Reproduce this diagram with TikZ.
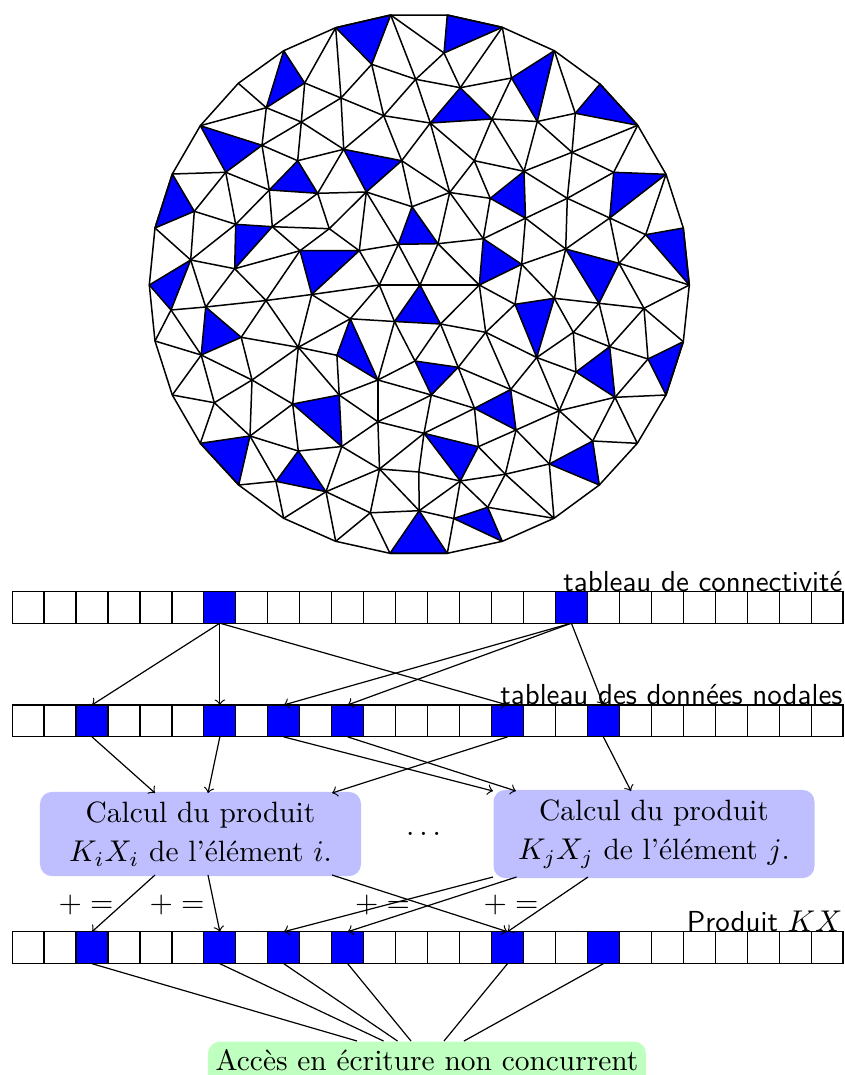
\documentclass[tikz,border=0pt]{standalone}
\usepackage{amsmath,amssymb}
\tikzset{
  meshline/.style={line width=0.5pt,line join=round},
  meshblue/.style={meshline,draw=black,fill=blue},
  cell/.style={draw,minimum size=10.65pt,inner sep=0pt,outer sep=0pt},
  bluecell/.style={cell,fill=blue},
  barlabel/.style={anchor=base east,inner sep=0pt,font=\fontsize{9.65}{12}\selectfont\sffamily},
  elembox/.style={fill=blue!25,rounded corners=4pt,align=center,minimum width=107pt},
  notebox/.style={fill=green!25,rounded corners=4pt,minimum width=146pt,text height=9.6pt,text depth=6pt,inner sep=0pt,anchor=north}
}
\begin{document}
\begin{tikzpicture}[x=0.33333pt,y=-0.33333pt,font=\fontsize{9.8}{12}\selectfont]
\useasboundingbox (0,0) rectangle (845,1075);
% boundary of the disc
\foreach \n/\x/\y in {b1/390.7/15,b2/447.3/15,b3/502.3/27.3,b4/554.3/50.7,b5/600/84,b6/637.7/125.3,
  b7/666/174.3,b8/683.3/228,b9/689.3/285,b10/683.3/341.7,b11/666/395,b12/637.3/443.3,b13/599.3/485,
  b14/554/518.3,b15/502.3/541.3,b16/447.3/553.3,b17/390/553.3,b18/335.7/541.3,b19/283.7/518.3,
  b20/238.7/485,b21/200.3/443.3,b22/172.3/395,b23/155/341,b24/149.3/285,b25/155/228,b26/172.3/174,
  b27/200.3/125.7,b28/238.3/83.3,b29/283.7/50.7,b30/335.7/27.7}
  \coordinate (\n) at (\x,\y);
% interior vertices
\foreach \n/\x/\y in {1/371.7/64.3,2/304.7/83,3/341/98,4/266.3/107.7,5/301.3/122,6/383.7/115.7,7/415.7/79.3,
  8/262/145.3,9/343.7/149.3,10/297.7/160.7,11/401.7/160.7,12/225.7/172.3,13/269.3/190,14/317.7/193.3,
  15/366.3/192,16/194.3/211.3,17/412/206.7,18/235.7/224.3,19/272.3/226.7,20/329.3/228.7,21/398.3/244.3,
  22/190.7/260,23/300/250.7,24/359.3/250.7,25/234.7/268.7,26/444/53,27/460.3/87.7,28/511.5/78,
  29/575.3/113.3,30/537.3/121.5,31/492/119,32/430.3/123,33/572/152.3,34/474.3/160.7,35/524/171.3,
  36/613.7/172.3,37/449.7/192.5,38/567.3/198.3,39/490.2/198.3,40/525.5/218.2,41/609.7/218,42/645.7/234.7,
  43/483.3/238.7,44/438/243.7,45/565.7/249,46/521.7/264.3,47/619/263.3,48/171/310,49/205.7/307,50/266/300.5,
  51/311.7/294.5,52/379.3/285,53/420/285,54/350.3/318.8,55/394.5/321.5,56/241.2/337.3,57/298.3/347.3,
  58/201.2/355,59/336.9/355.3,60/377.9/380,61/252/380,62/339.2/395,63/214.3/402.7,64/292.7/404,
  65/377.9/421.7,66/250/436,67/341.8/446.5,68/298.3/451,69/379.5/469,70/418.8/472,71/276/481.3,72/326/491.7,
  73/370.3/512.8,74/419.2/510.7,75/479.3/285,76/554.3/298.3,77/515/304.3,78/599/303.3,79/644/308.3,
  80/440.5/324,81/485.7/332.3,82/573.3/332.3,83/609.7/346.7,84/536.7/357.5,85/648/359,86/458.2/367.3,
  87/576/372,88/615/397.3,89/510.7/389.5,90/431.3/395,91/474.5/408.3,92/559.3/410.7,93/516/430,94/424/433.3,
  95/478.3/446.7,96/592.7/441,97/549.3/464,98/505.3/474.2,99/460.3/481,100/487.7/507.3,101/453.7/518.5,
  102/415/361}
  \coordinate (\n) at (\x,\y);
\foreach \a/\b in {b1/7,b1/26,b3/27,b3/28,b4/29,b6/33,b6/36,b7/42,b9/47,b9/79,b10/79,b11/88,b12/88,b12/96,
  b14/97,b14/98,b14/100,b16/101,b17/73,b18/73,b18/72,b19/72,b19/71,b20/71,b21/63,b22/63,b22/58,b23/58,b23/48,
  b25/22,b26/12,b27/4,b28/4,b30/2,b30/3,
  2/3,2/5,4/5,4/8,5/8,5/3,5/9,5/10,3/9,3/1,3/6,1/6,1/7,6/7,6/9,6/11,6/32,8/10,8/13,12/13,12/16,12/18,16/18,16/22,
  10/9,9/14,13/18,13/19,14/15,14/19,14/20,19/20,19/23,20/23,20/15,20/24,15/24,15/21,15/17,11/17,11/32,11/37,
  24/21,24/52,21/52,21/53,18/22,22/25,22/49,25/23,25/49,25/50,23/50,
  7/26,7/27,7/32,26/27,27/28,28/31,31/30,30/29,29/33,30/33,30/35,31/35,31/34,32/34,32/37,34/37,34/39,34/35,
  37/39,35/33,35/38,33/38,33/36,36/38,38/41,41/42,38/40,38/45,39/43,37/43,37/44,37/17,40/43,40/46,40/45,44/43,
  44/75,44/53,45/46,41/45,41/47,42/47,47/79,78/79,76/78,78/82,78/83,46/76,46/77,76/82,45/76,75/77,75/81,75/80,
  53/75,52/53,48/49,49/50,50/51,51/52,50/56,50/57,51/57,51/54,52/54,52/55,54/55,54/57,57/59,56/57,48/58,55/60,
  55/102,102/60,56/61,58/61,58/63,57/61,57/64,57/62,59/62,62/60,62/65,67/65,67/68,67/69,67/72,60/65,65/69,69/72,
  69/73,69/70,69/74,70/74,72/73,73/74,64/68,64/66,64/61,61/63,61/66,63/66,66/71,66/68,60/90,90/65,90/91,90/94,
  94/65,94/69,94/70,94/91,70/99,99/74,99/101,99/98,99/100,74/101,91/95,86/89,86/91,81/86,80/86,80/102,80/81,
  81/84,81/89,81/77,89/84,89/92,84/92,84/82,84/87,87/92,82/83,82/87,83/85,85/88,85/79,79/83,88/92,88/96,92/96,
  92/97,92/93,93/95,93/98,95/98,97/93,98/97,98/100}
  \draw[meshline] (\a) -- (\b);
\foreach \a/\b/\c in {1/b30/b1,b2/26/b3,b29/2/4,b4/28/30,b5/29/b6,27/32/31,b27/8/12,10/13/14,9/11/15,39/35/40,
  36/b7/41,b26/16/b25,18/19/25,17/21/44,23/24/51,43/46/75,42/b8/b9,45/47/78,22/b24/48,53/55/80,76/77/84,49/56/58,
  54/59/60,102/86/90,83/87/88,85/b10/b11,89/91/93,62/64/67,94/95/99,96/97/b13,66/b21/b20,68/71/72,101/100/b15,
  74/b17/b16}
  \draw[meshblue] (\a) -- (\b) -- (\c) -- cycle;
\draw[meshline] (b1) -- (b2) -- (b3) -- (b4) -- (b5) -- (b6) -- (b7) -- (b8) -- (b9) -- (b10) -- (b11) -- (b12)
  -- (b13) -- (b14) -- (b15) -- (b16) -- (b17) -- (b18) -- (b19) -- (b20) -- (b21) -- (b22) -- (b23) -- (b24)
  -- (b25) -- (b26) -- (b27) -- (b28) -- (b29) -- (b30) -- cycle;
% the three arrays
\foreach \r/\y in {conn/607.2,data/720.9,prod/947.7}
  \foreach \i in {1,...,26}
    \node[cell] (\r\i) at ({12.1+31.96*(\i-0.5)},\y) {};
\foreach \i in {7,18} \node[bluecell] at (conn\i) {};
\foreach \r in {data,prod}
  \foreach \i in {3,7,9,11,16,19} \node[bluecell] at (\r\i) {};
\node[barlabel] (connlabel) at (conn26.north east) {tableau de connectivit\'e};
\node[barlabel] (datalabel) at (data26.north east) {tableau des donn\'ees nodales};
\node[barlabel] (prodlabel) at (prod26.north east) {Produit $KX$};
% boxes
\node[elembox,minimum height=27.3pt] (elemi) at (200.5,834) {Calcul du produit\\[1pt]$K_iX_i$ de l'\'el\'ement $i$.};
\node[elembox,minimum height=28.6pt] (elemj) at (654,834) {Calcul du produit\\[1pt]$K_jX_j$ de l'\'el\'ement $j$.};
\node[notebox] (access) at (427,1041) {Acc\`es en \'ecriture non concurrent};
\node (dots) at (426,834) {$\dots$};
\node (plusa) at (86,905) {$+=$};
\node (plusb) at (177,905) {$+=$};
\node (plusc) at (382.5,905) {$+=$};
\node (plusd) at (511,905) {$+=$};
% from connectivity to nodal data
\foreach \i/\j in {7/3,7/7,7/16,18/9,18/11,18/19}
  \draw[->] (conn\i.south) -- (data\j.north);
% from nodal data to the boxes
\foreach \j/\x in {3/155,7/208,16/332}
  \draw[->] (data\j.south) -- (\x,793);
\foreach \j/\x in {9/493,11/516,19/631}
  \draw[->] (data\j.south) -- (\x,791);
% from the boxes to the product
\foreach \x/\j in {155/3,208/7,332/16}
  \draw[->] (\x,875) -- (prod\j.north);
\foreach \x/\j in {493/9,516.5/11,588/16}
  \draw[->] (\x,877) -- (prod\j.north);
% to the note
\foreach \j/\x in {3/357,7/383.5,9/397.5,11/411,16/444,19/464}
  \draw (prod\j.south) -- (\x,1041);
\end{tikzpicture}
\end{document}
